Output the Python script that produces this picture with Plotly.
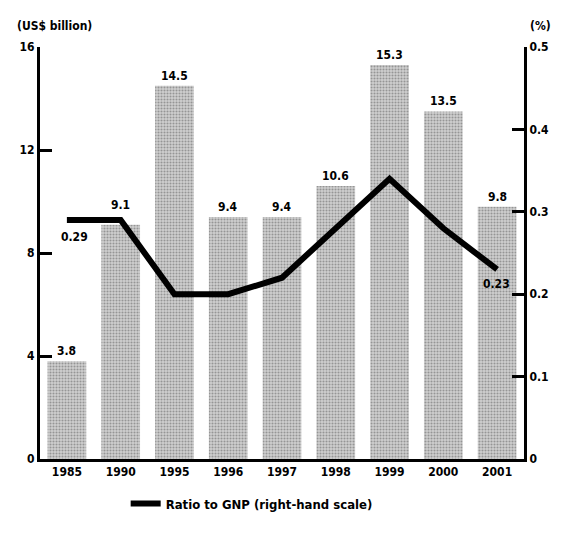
import plotly.graph_objects as go

years = ["1985", "1990", "1995", "1996", "1997", "1998", "1999", "2000", "2001"]
oda_billion = [3.8, 9.1, 14.5, 9.4, 9.4, 10.6, 15.3, 13.5, 9.8]
bar_labels = ["3.8", "9.1", "14.5", "9.4", "9.4", "10.6", "15.3", "13.5", "9.8"]
ratio_gnp = [0.29, 0.29, 0.20, 0.20, 0.22, 0.28, 0.34, 0.28, 0.23]
left_ticks = [0, 4, 8, 12, 16]
left_tick_text = ["0", "4", "8", "12", "16"]
right_ticks = [0, 0.1, 0.2, 0.3, 0.4, 0.5]
right_tick_text = ["0", "0.1", "0.2", "0.3", "0.4", "0.5"]

FONT = "DejaVu Sans Condensed, Liberation Sans Narrow, Arial Narrow, sans-serif"
fnt = dict(family=FONT, size=12, color="black", weight="bold")

fig = go.Figure()
fig.add_trace(go.Bar(
    x=years, y=oda_billion, showlegend=False, hoverinfo="x+y",
    marker=dict(color="#b8b8b8", line=dict(width=0),
                pattern=dict(shape=".", size=3, solidity=0.4,
                             fgcolor="#5a5a5a", bgcolor="#d0d0d0")),
    yaxis="y",
))
fig.add_trace(go.Scatter(
    x=years, y=ratio_gnp, mode="lines", name="Ratio to GNP (right-hand scale)",
    line=dict(color="black", width=6), yaxis="y2", showlegend=True,
))

# page body adds an 8px margin, so the figure is sized to fit the 569x538 window
fig.update_layout(
    width=553, height=522,
    margin=dict(l=31, r=25, t=39, b=49),
    paper_bgcolor="white", plot_bgcolor="white",
    bargap=0.28,
    font=fnt,
    xaxis=dict(type="category", categoryorder="array", categoryarray=years,
               range=[-0.5, len(years) - 0.5], showline=True, linecolor="black",
               linewidth=3, ticks="", tickfont=fnt, showgrid=False, zeroline=False),
    yaxis=dict(range=[0, 16], tickvals=left_ticks, ticktext=left_tick_text,
               showline=True, linecolor="black", linewidth=3, ticks="inside",
               ticklen=12, tickwidth=2.5, tickcolor="black", showgrid=False,
               zeroline=False, tickfont=fnt),
    yaxis2=dict(range=[0, 0.5], tickvals=right_ticks, ticktext=right_tick_text,
                overlaying="y", side="right", showline=True, linecolor="black",
                linewidth=3, ticks="inside", ticklen=12, tickwidth=2.5,
                tickcolor="black", showgrid=False, zeroline=False, tickfont=fnt),
    legend=dict(orientation="h", x=0.177, xanchor="left", y=-0.108, yanchor="middle",
                font=dict(family=FONT, size=13, color="black"),
                bgcolor="rgba(0,0,0,0)"),
)

# bar value labels (9.1 sits above the ratio line)
for i, (yr, v, lab) in enumerate(zip(years, oda_billion, bar_labels)):
    fig.add_annotation(x=i, y=v, xref="x", yref="y", text=lab, showarrow=False,
                       yanchor="bottom", yshift=(11 if yr == "1990" else 1), font=fnt)

fig.add_annotation(x=0, y=ratio_gnp[0], xref="x", yref="y2", text="0.29", showarrow=False,
                   xshift=8, yshift=-17, font=fnt)
fig.add_annotation(x=len(years) - 1, y=ratio_gnp[-1], xref="x", yref="y2", text="0.23",
                   showarrow=False, xshift=-1, yshift=-15, font=fnt)
fig.add_annotation(x=-0.052, y=1.05, xref="paper", yref="paper", text="(US$ billion)",
                   xanchor="left", yanchor="middle", showarrow=False, font=fnt)
fig.add_annotation(x=1.008, y=1.05, xref="paper", yref="paper", text="(%)",
                   xanchor="left", yanchor="middle", showarrow=False, font=fnt)

fig.write_html("out.html")
